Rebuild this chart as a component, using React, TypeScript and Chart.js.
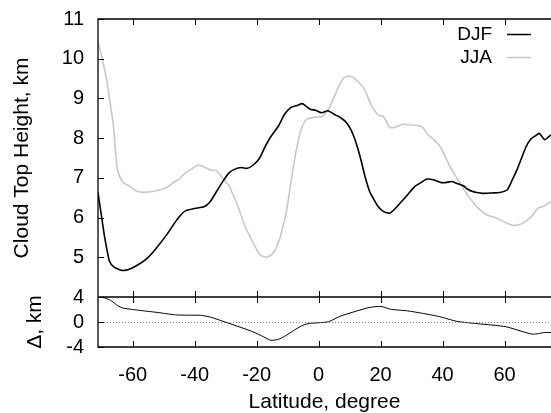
import React, { useEffect, useRef } from 'react';
import { Chart, registerables } from 'chart.js';

Chart.register(...registerables);

const FONT = '"Liberation Sans", Arial, Helvetica, sans-serif';

// ---- data ----
const X_MIN = -71.2;
const X_MAX = 75;
const xTickValues = [-60, -40, -20, 0, 20, 40, 60];
const topTickValues = [4, 5, 6, 7, 8, 9, 10, 11];
const bottomTickValues = [-4, 0, 4];

const djfLat = [-71.2, -70, -69, -67.5, -66, -64, -62.5, -60.5, -57.5, -55, -53, -49, -45.5, -43, -40, -37, -35, -33, -31, -29, -27, -25, -23, -21, -19, -17.5, -15.5, -13, -11, -9, -7, -5.3, -4, -2.8, -1, 1, 3, 5, 7, 9, 10.5, 12, 13.5, 15, 16.5, 17.5, 19, 21, 23, 25, 27.3, 29, 31, 33, 35, 37, 39.7, 41, 43, 45, 46.7, 48, 49.5, 51, 53, 56, 58.5, 60.9, 62.5, 64, 65.5, 67, 68.5, 70, 71.2, 72, 73, 74, 75];
const djfHeight = [6.63, 6.0, 5.48, 4.9, 4.75, 4.68, 4.67, 4.72, 4.85, 5.0, 5.17, 5.57, 5.97, 6.17, 6.23, 6.27, 6.4, 6.65, 6.9, 7.12, 7.22, 7.26, 7.24, 7.33, 7.5, 7.75, 8.03, 8.3, 8.6, 8.77, 8.82, 8.87, 8.8, 8.73, 8.7, 8.64, 8.69, 8.6, 8.52, 8.39, 8.2, 7.9, 7.5, 7.03, 6.65, 6.5, 6.3, 6.15, 6.11, 6.25, 6.45, 6.6, 6.78, 6.88, 6.97, 6.95, 6.88, 6.88, 6.91, 6.85, 6.8, 6.72, 6.66, 6.63, 6.61, 6.62, 6.63, 6.7, 6.95, 7.2, 7.5, 7.79, 7.98, 8.06, 8.12, 8.05, 7.96, 8.02, 8.08];

const jjaLat = [-71.2, -70, -68.4, -67.3, -66.2, -65.1, -64, -63, -60.8, -58.7, -55.4, -51.2, -49, -46.9, -45.3, -43.1, -41, -39.3, -37.5, -35, -33, -31.8, -30, -29, -27.5, -26.4, -25, -23.7, -22, -21.1, -18.9, -16.7, -14.6, -12.5, -11.3, -10.3, -9.3, -8.3, -7.2, -6, -5, -3.8, -1.2, 1, 3.1, 5.3, 6.6, 8, 9.5, 10.7, 12.8, 15, 16.3, 17.6, 19.3, 20.9, 22, 23, 24.6, 26, 27.3, 30.5, 33.3, 35.4, 37.3, 39.2, 40.8, 42.4, 44, 45.6, 47.2, 48.8, 50.2, 51.5, 54.2, 57.4, 60.1, 62.8, 64.5, 66, 68.7, 70.9, 72.5, 75];
const jjaHeight = [10.43, 10.05, 9.47, 8.9, 8.29, 7.28, 7.0, 6.88, 6.78, 6.66, 6.64, 6.7, 6.76, 6.88, 6.95, 7.12, 7.22, 7.31, 7.3, 7.2, 7.18, 7.08, 6.9, 6.82, 6.55, 6.36, 6.05, 5.77, 5.5, 5.36, 5.06, 5.0, 5.11, 5.48, 5.85, 6.19, 6.7, 7.2, 7.7, 8.12, 8.35, 8.48, 8.53, 8.54, 8.71, 9.09, 9.32, 9.51, 9.56, 9.55, 9.42, 9.21, 8.95, 8.75, 8.58, 8.54, 8.4, 8.27, 8.27, 8.32, 8.35, 8.33, 8.29, 8.08, 7.95, 7.79, 7.55, 7.28, 7.07, 6.87, 6.67, 6.49, 6.35, 6.24, 6.07, 5.99, 5.88, 5.8, 5.82, 5.86, 6.03, 6.24, 6.28, 6.4];

const deltaLat = [-71.2, -70.7, -69, -67.1, -64.8, -63.1, -60, -57.4, -51.7, -46.1, -40.4, -38.1, -34.7, -30.2, -25.7, -21.2, -17.7, -15.5, -13.2, -10.9, -7.5, -5, -3, 0.4, 3.2, 7.2, 11.8, 16.3, 20.2, 23.1, 28.7, 33.3, 39, 44.6, 50.3, 56, 60.5, 65, 69, 71, 73, 75];
const deltaValue = [4.0, 4.0, 3.85, 3.46, 2.59, 2.22, 2.0, 1.84, 1.51, 1.14, 1.08, 1.08, 0.76, 0.0, -0.76, -1.57, -2.38, -2.92, -2.81, -2.27, -1.19, -0.5, -0.22, -0.11, 0.05, 0.97, 1.68, 2.32, 2.49, 2.05, 1.78, 1.41, 0.86, 0.11, -0.22, -0.49, -0.76, -1.41, -1.95, -1.85, -1.68, -1.68];

const seriesLabels = ['DJF', 'JJA'];
const seriesColors = ['#000000', '#c8c8c8'];

const toPoints = (xs: number[], ys: number[]) => xs.map((x, i) => ({ x, y: ys[i] }));

const framePlugin = {
  id: 'gnuFrame',
  afterDatasetsDraw(chart: any) {
    const { ctx, chartArea } = chart;
    const xs = chart.scales.x;
    const yT = chart.scales.yTop;
    const yB = chart.scales.yBot;
    const L = chartArea.left;
    const R = chartArea.right + 3;
    const topY = yT.top;
    const midY = yB.top;
    const botY = yB.bottom;
    ctx.save();
    // zero line (dotted)
    ctx.strokeStyle = '#808080';
    ctx.lineWidth = 1;
    ctx.setLineDash([1, 2]);
    const zy = Math.round(yB.getPixelForValue(0)) + 0.5;
    ctx.beginPath();
    ctx.moveTo(L, zy);
    ctx.lineTo(R, zy);
    ctx.stroke();
    ctx.setLineDash([]);
    // frame
    ctx.strokeStyle = '#000';
    ctx.lineWidth = 1.3;
    ctx.beginPath();
    ctx.moveTo(R, topY);
    ctx.lineTo(L, topY);
    ctx.lineTo(L, botY);
    ctx.lineTo(R, botY);
    ctx.moveTo(L, midY);
    ctx.lineTo(R, midY);
    ctx.stroke();
    // ticks
    const tl = 6;
    ctx.lineWidth = 1;
    ctx.beginPath();
    for (const v of xTickValues) {
      const px = Math.round(xs.getPixelForValue(v)) + 0.5;
      ctx.moveTo(px, topY); ctx.lineTo(px, topY + tl);
      ctx.moveTo(px, midY - tl); ctx.lineTo(px, midY + tl);
      ctx.moveTo(px, botY); ctx.lineTo(px, botY - tl);
    }
    for (const v of topTickValues) {
      const py = Math.round(yT.getPixelForValue(v)) + 0.5;
      ctx.moveTo(L, py); ctx.lineTo(L + tl, py);
    }
    for (const v of bottomTickValues) {
      const py = Math.round(yB.getPixelForValue(v)) + 0.5;
      ctx.moveTo(L, py); ctx.lineTo(L + tl, py);
    }
    ctx.stroke();
    // legend
    ctx.font = `19px ${FONT}`;
    ctx.textAlign = 'right';
    ctx.textBaseline = 'middle';
    const legendY = [35, 58];
    chart.data.datasets.slice(0, 2).forEach((ds: any, i: number) => {
      ctx.fillStyle = '#000';
      ctx.fillText(ds.label, 492, legendY[i]);
      ctx.strokeStyle = ds.borderColor;
      ctx.lineWidth = 1.5;
      ctx.beginPath();
      ctx.moveTo(507, legendY[i] - 0.5);
      ctx.lineTo(531, legendY[i] - 0.5);
      ctx.stroke();
    });
    ctx.restore();
  },
};

const fitY = (s: any) => {
  s.width = 98;
  s.paddingTop = 0;
  s.paddingBottom = 0;
};

export default function App() {
  const ref = useRef<HTMLCanvasElement>(null);
  useEffect(() => {
    if (!ref.current) return;
    const tickFont = { family: FONT, size: 20 };
    const titleFont = { family: FONT, size: 21, lineHeight: 1 };
    const chart = new Chart(ref.current, {
      type: 'line',
      data: {
        datasets: [
          { label: seriesLabels[0], data: toPoints(djfLat, djfHeight), yAxisID: 'yTop', borderColor: seriesColors[0], borderWidth: 1.6, pointRadius: 0, tension: 0.2, fill: false },
          { label: seriesLabels[1], data: toPoints(jjaLat, jjaHeight), yAxisID: 'yTop', borderColor: seriesColors[1], borderWidth: 1.6, pointRadius: 0, tension: 0.2, fill: false },
          { label: 'Δ', data: toPoints(deltaLat, deltaValue), yAxisID: 'yBot', borderColor: '#000000', borderWidth: 1, pointRadius: 0, tension: 0.2, fill: false },
        ],
      },
      options: {
        animation: false,
        responsive: false,
        maintainAspectRatio: false,
        layout: { padding: { top: 19, left: 0, right: 0, bottom: 0 } },
        plugins: { legend: { display: false }, tooltip: { enabled: false } },
        scales: {
          x: {
            type: 'linear',
            min: X_MIN,
            max: X_MAX,
            grid: { display: false, drawTicks: false },
            border: { display: false },
            afterBuildTicks: (s: any) => { s.ticks = xTickValues.map((value) => ({ value })); },
            afterFit: (s: any) => { s.height = 66; s.paddingLeft = 0; s.paddingRight = 0; },
            ticks: { font: tickFont, color: '#000', padding: 16, maxRotation: 0, autoSkip: false },
            title: { display: true, text: 'Latitude, degree', font: titleFont, color: '#000', padding: 0 },
          },
          yBot: {
            type: 'linear',
            position: 'left',
            stack: 'panels',
            stackWeight: 50,
            min: -4,
            max: 4,
            grid: { display: false, drawTicks: false },
            border: { display: false },
            afterBuildTicks: (s: any) => { s.ticks = bottomTickValues.map((value) => ({ value })); },
            afterFit: fitY,
            ticks: { font: tickFont, color: '#000', padding: 14, autoSkip: false },
            title: { display: true, text: 'Δ, km', font: titleFont, color: '#000', padding: { top: 25, bottom: 0 } },
          },
          yTop: {
            type: 'linear',
            position: 'left',
            stack: 'panels',
            stackWeight: 278,
            min: 4,
            max: 11,
            grid: { display: false, drawTicks: false },
            border: { display: false },
            afterBuildTicks: (s: any) => { s.ticks = topTickValues.map((value) => ({ value })); },
            afterFit: fitY,
            ticks: { font: tickFont, color: '#000', padding: 14, autoSkip: false, callback: (v: any) => (v === 4 ? '' : String(v)) },
            title: { display: true, text: 'Cloud Top Height, km', font: titleFont, color: '#000', padding: { top: 11.5, bottom: 0 } },
          },
        },
      },
      plugins: [framePlugin],
    } as any);
    return () => chart.destroy();
  }, []);
  return (
    <div style={{ position: 'fixed', left: 0, top: 0, width: 551, height: 413, overflow: 'hidden', background: '#fff' }}>
      <canvas ref={ref} width={551} height={413} style={{ width: 551, height: 413, display: 'block' }} />
    </div>
  );
}
